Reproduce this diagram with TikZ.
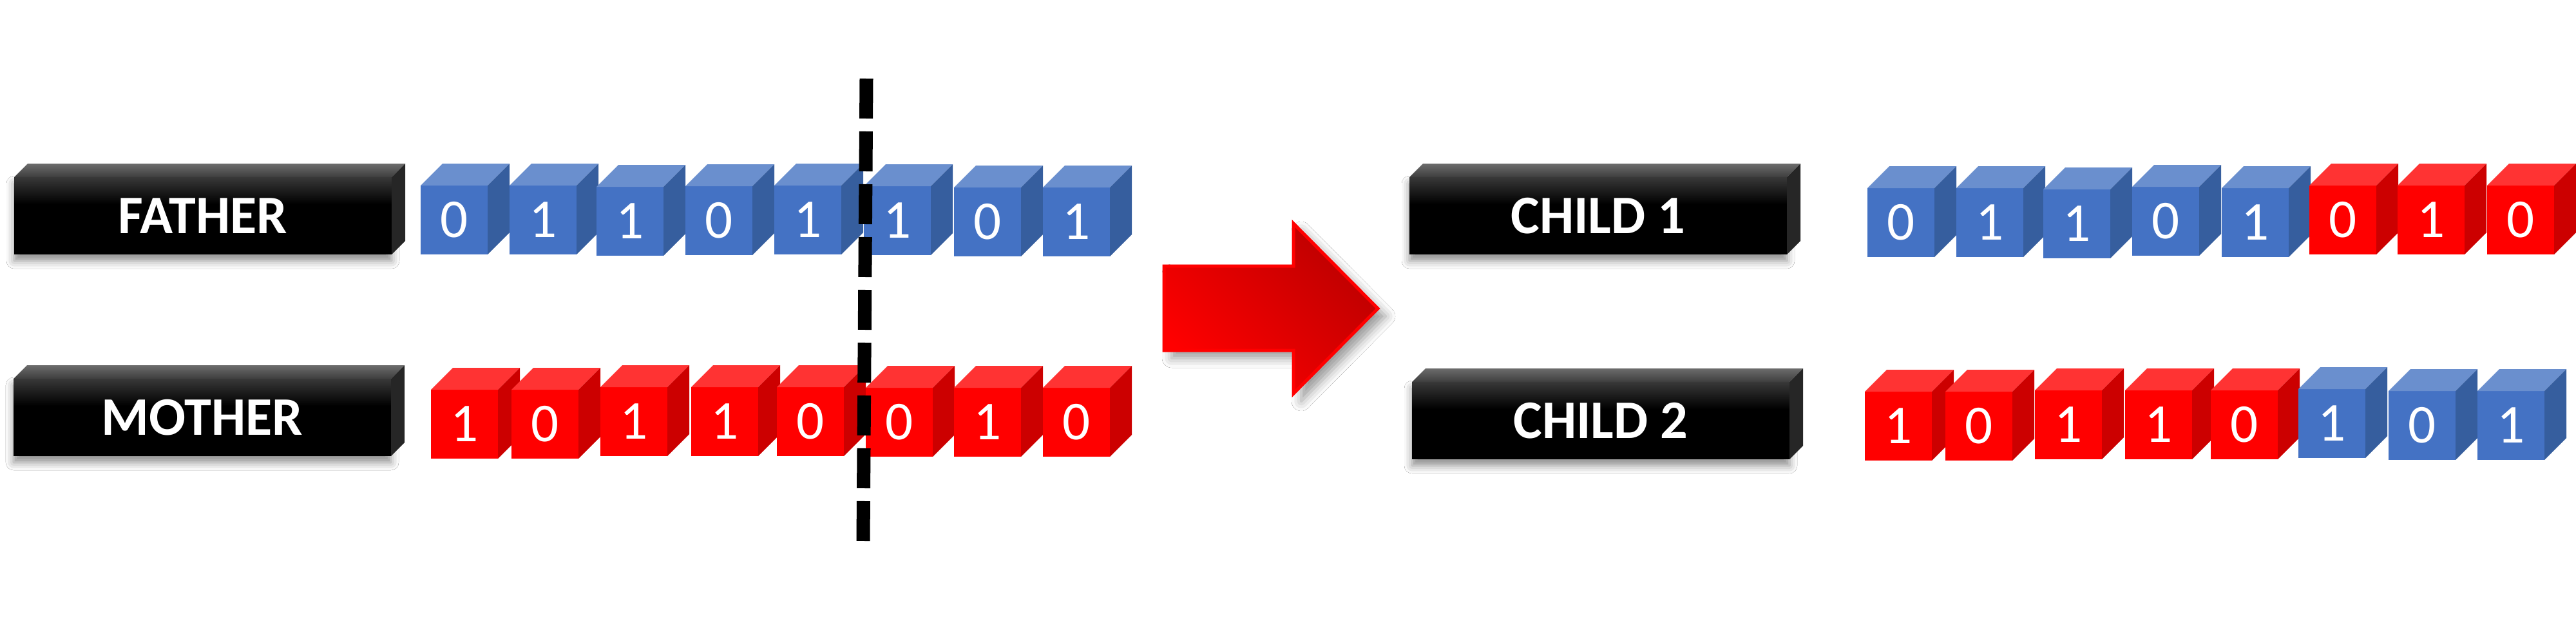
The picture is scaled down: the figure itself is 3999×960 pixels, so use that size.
\documentclass[tikz,border=0pt]{standalone}
\usepackage{fontspec}
\setmainfont{Carlito}
\usetikzlibrary{shadows.blur}
\definecolor{bfront}{HTML}{4472C4}
\definecolor{btop}{HTML}{6A8FCE}
\definecolor{bside}{HTML}{365E9E}
\definecolor{rfront}{HTML}{FF0000}
\definecolor{rtop}{HTML}{FF3333}
\definecolor{rside}{HTML}{CC0000}
\definecolor{lbfacetop}{HTML}{383838}
\definecolor{lbtopback}{HTML}{6C6C6C}
\definecolor{lbtopfront}{HTML}{3E3E3E}
\definecolor{lbside}{HTML}{262626}
\definecolor{arrdark}{HTML}{BC0000}
\definecolor{arrlight}{HTML}{FF0000}
\tikzset{
  digit/.style={text=white, font=\fontsize{24.2pt}{28pt}\selectfont, inner sep=0pt},
  lbltext/.style={text=white, font=\fontsize{24pt}{28pt}\selectfont\bfseries, inner sep=0pt},
  cutline/.style={line width=2.1mm, dash pattern=on 6.2mm off 2mm, black},
  arrowshape/.style={blur shadow={shadow xshift=1.2mm, shadow yshift=-1.2mm, shadow blur radius=1.5mm, shadow opacity=40},
    top color=arrdark, bottom color=arrlight, shading angle=-45, draw=arrlight, line width=0.5mm},
  boxshadow/.style={blur shadow={shadow xshift=0mm, shadow yshift=-1mm, shadow blur radius=1.2mm, shadow opacity=45}},
}
% cube: name, x, y (front top-left), digit, colour prefix
\newcommand\gcube[5]{%
  \fill[#5front] (#2,#3) rectangle ++(104,107);
  \fill[#5top] (#2,#3) -- ++(34,-34) -- ++(104,0) -- ++(-34,34) -- cycle;
  \fill[#5side] (#2+104,#3) -- ++(34,-34) -- ++(0,107) -- ++(-34,34) -- cycle;
  \node[digit] (#1) at (#2+52,#3+53.5) {#4};
}
% label box: name, x, y, text
\newcommand\lblbox[4]{%
  \path[boxshadow] (#2,#3) rectangle ++(586,120);
  \fill[black] (#2,#3) rectangle ++(586,120);
  \shade[top color=lbfacetop, bottom color=black] (#2,#3) rectangle ++(586,42);
  \shade[top color=lbtopback, bottom color=lbtopfront] (#2,#3) -- ++(21,-21) -- ++(586,0) -- ++(-21,21) -- cycle;
  \fill[lbside] (#2+586,#3) -- ++(21,-21) -- ++(0,120) -- ++(-21,21) -- cycle;
  \node[lbltext] (#1) at (#2+293,#3+60) {#4};
}
\begin{document}
\begin{tikzpicture}[x=0.1mm, y=-0.1mm]
\fill[white] (0,0) rectangle (3999,960);
\useasboundingbox (0,0) rectangle (3999,960);

% labels
\lblbox{father}{22}{275}{FATHER}
\lblbox{mother}{21}{588}{MOTHER}
\lblbox{childa}{2188}{275}{CHILD 1}
\lblbox{childb}{2192}{593}{CHILD 2}

% father
\gcube{f1}{653}{288}{0}{b}
\gcube{f2}{791}{288}{1}{b}
\gcube{f3}{926}{290}{1}{b}
\gcube{f4}{1064}{289}{0}{b}
\gcube{f5}{1202}{288}{1}{b}
\gcube{f6}{1341}{289}{1}{b}
\gcube{f7}{1481}{291}{0}{b}
\gcube{f8}{1619}{291}{1}{b}

% mother
\gcube{m1}{669}{605}{1}{r}
\gcube{m2}{794}{605}{0}{r}
\gcube{m3}{932}{601}{1}{r}
\gcube{m4}{1073}{601}{1}{r}
\gcube{m5}{1206}{601}{0}{r}
\gcube{m6}{1344}{602}{0}{r}
\gcube{m7}{1481}{602}{1}{r}
\gcube{m8}{1619}{602}{0}{r}

% child 1
\gcube{a1}{2899}{292}{0}{b}
\gcube{a2}{3037}{292}{1}{b}
\gcube{a3}{3172}{294}{1}{b}
\gcube{a4}{3310}{290}{0}{b}
\gcube{a5}{3449}{292}{1}{b}
\gcube{a6}{3585}{288}{0}{r}
\gcube{a7}{3722}{288}{1}{r}
\gcube{a8}{3861}{288}{0}{r}

% child 2
\gcube{b1}{2895}{608}{1}{r}
\gcube{b2}{3020}{608}{0}{r}
\gcube{b3}{3159}{606}{1}{r}
\gcube{b4}{3299}{606}{1}{r}
\gcube{b5}{3432}{606}{0}{r}
\gcube{b6}{3568}{604}{1}{b}
\gcube{b7}{3708}{607}{0}{b}
\gcube{b8}{3846}{607}{1}{b}

% crossover cut
\coordinate (cutT) at (1345,122);
\coordinate (cutB) at (1340,840);
\draw[cutline] (cutT) -- (cutB);

% big arrow
\path[arrowshape] (1807,413) -- (2008,413) -- (2008,347) -- (2139,479) -- (2008,611) -- (2008,544) -- (1807,544) -- cycle;
\end{tikzpicture}
\end{document}
